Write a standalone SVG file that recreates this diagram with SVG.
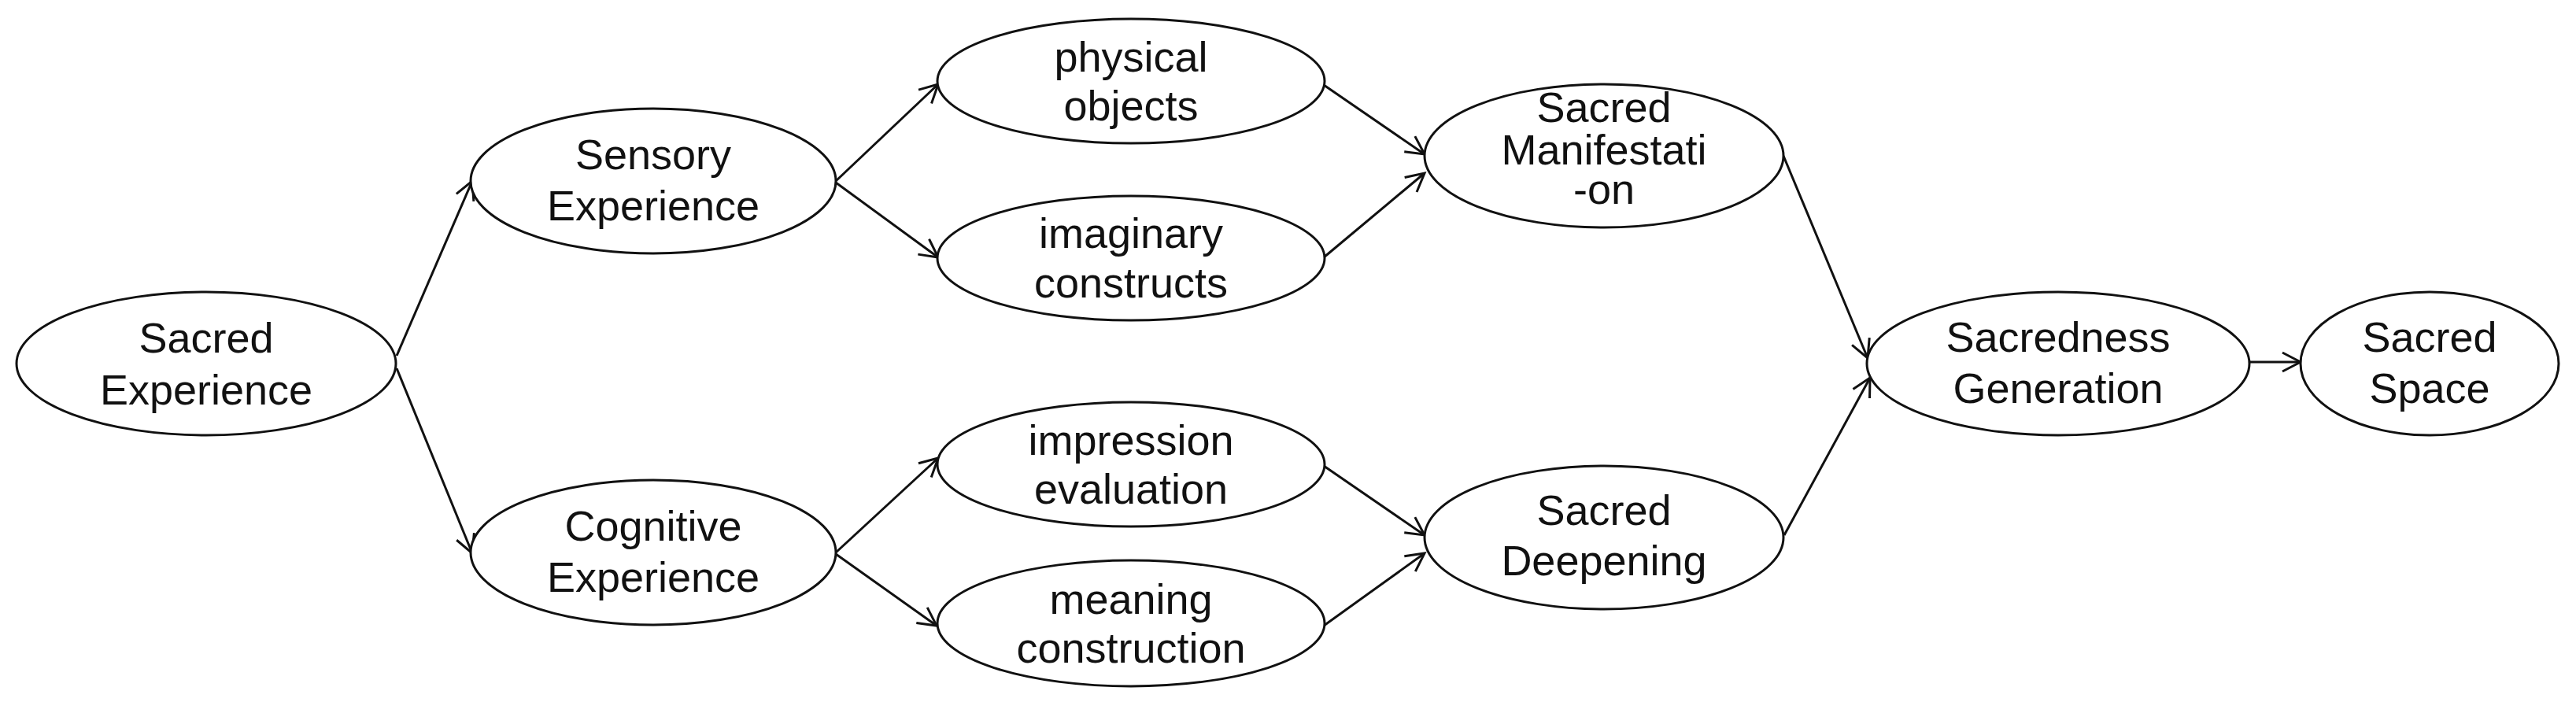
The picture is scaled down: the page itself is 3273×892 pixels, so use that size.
<svg xmlns="http://www.w3.org/2000/svg" width="3273" height="892" viewBox="0 0 3273 892">
<defs>
<style>
.n ellipse{fill:#fff;stroke:#111;stroke-width:3}
.n text{font-family:"Liberation Sans",Arial,sans-serif;font-size:54px;fill:#111;text-anchor:middle}
.c line{stroke:#111;stroke-width:3;fill:none;marker-end:url(#ah)}
</style>
<marker id="ah" markerUnits="userSpaceOnUse" markerWidth="40" markerHeight="40" viewBox="-30 -20 40 40" refX="0" refY="0" orient="auto">
<path d="M-23,-12 L0,0 L-23,12" fill="none" stroke="#111" stroke-width="3"/>
</marker>
</defs>
<rect width="3273" height="892" fill="#fff"/>
<g id="connectors" class="c">
<line x1="504" y1="452" x2="600" y2="230"/>
<line x1="504" y1="468" x2="600" y2="703"/>
<line x1="1062" y1="230" x2="1192" y2="107"/>
<line x1="1062" y1="232" x2="1192" y2="327"/>
<line x1="1062" y1="702" x2="1192" y2="582"/>
<line x1="1062" y1="704" x2="1190" y2="795"/>
<line x1="1682" y1="108" x2="1810" y2="196"/>
<line x1="1682" y1="327" x2="1810" y2="220"/>
<line x1="1682" y1="592" x2="1810" y2="680"/>
<line x1="1682" y1="795" x2="1810" y2="703"/>
<line x1="2266" y1="198" x2="2373" y2="455"/>
<line x1="2267" y1="680" x2="2376" y2="480"/>
<line x1="2858" y1="460" x2="2923" y2="460"/>
</g>
<g id="sacred-experience" class="n">
<ellipse cx="262" cy="462" rx="241" ry="91"/>
<text x="262" y="448">Sacred</text>
<text x="262" y="514">Experience</text>
</g>
<g id="sensory-experience" class="n">
<ellipse cx="830" cy="230" rx="232" ry="92"/>
<text x="830" y="215">Sensory</text>
<text x="830" y="280">Experience</text>
</g>
<g id="cognitive-experience" class="n">
<ellipse cx="830" cy="702" rx="232" ry="92"/>
<text x="830" y="687">Cognitive</text>
<text x="830" y="752">Experience</text>
</g>
<g id="physical-objects" class="n">
<ellipse cx="1437" cy="103" rx="246" ry="79"/>
<text x="1437" y="91">physical</text>
<text x="1437" y="153">objects</text>
</g>
<g id="imaginary-constructs" class="n">
<ellipse cx="1437" cy="328" rx="246" ry="79"/>
<text x="1437" y="315">imaginary</text>
<text x="1437" y="378">constructs</text>
</g>
<g id="impression-evaluation" class="n">
<ellipse cx="1437" cy="590" rx="246" ry="79"/>
<text x="1437" y="578">impression</text>
<text x="1437" y="640">evaluation</text>
</g>
<g id="meaning-construction" class="n">
<ellipse cx="1437" cy="792" rx="246" ry="80"/>
<text x="1437" y="780">meaning</text>
<text x="1437" y="842">construction</text>
</g>
<g id="sacred-manifestation" class="n">
<ellipse cx="2038" cy="198" rx="228" ry="91"/>
<text x="2038" y="155">Sacred</text>
<text x="2038" y="209">Manifestati</text>
<text x="2038" y="259">-on</text>
</g>
<g id="sacred-deepening" class="n">
<ellipse cx="2038" cy="683" rx="228" ry="91"/>
<text x="2038" y="667">Sacred</text>
<text x="2038" y="731">Deepening</text>
</g>
<g id="sacredness-generation" class="n">
<ellipse cx="2615" cy="462" rx="243" ry="91"/>
<text x="2615" y="447">Sacredness</text>
<text x="2615" y="512">Generation</text>
</g>
<g id="sacred-space" class="n">
<ellipse cx="3087" cy="462" rx="164" ry="91"/>
<text x="3087" y="447">Sacred</text>
<text x="3087" y="512">Space</text>
</g>
</svg>
